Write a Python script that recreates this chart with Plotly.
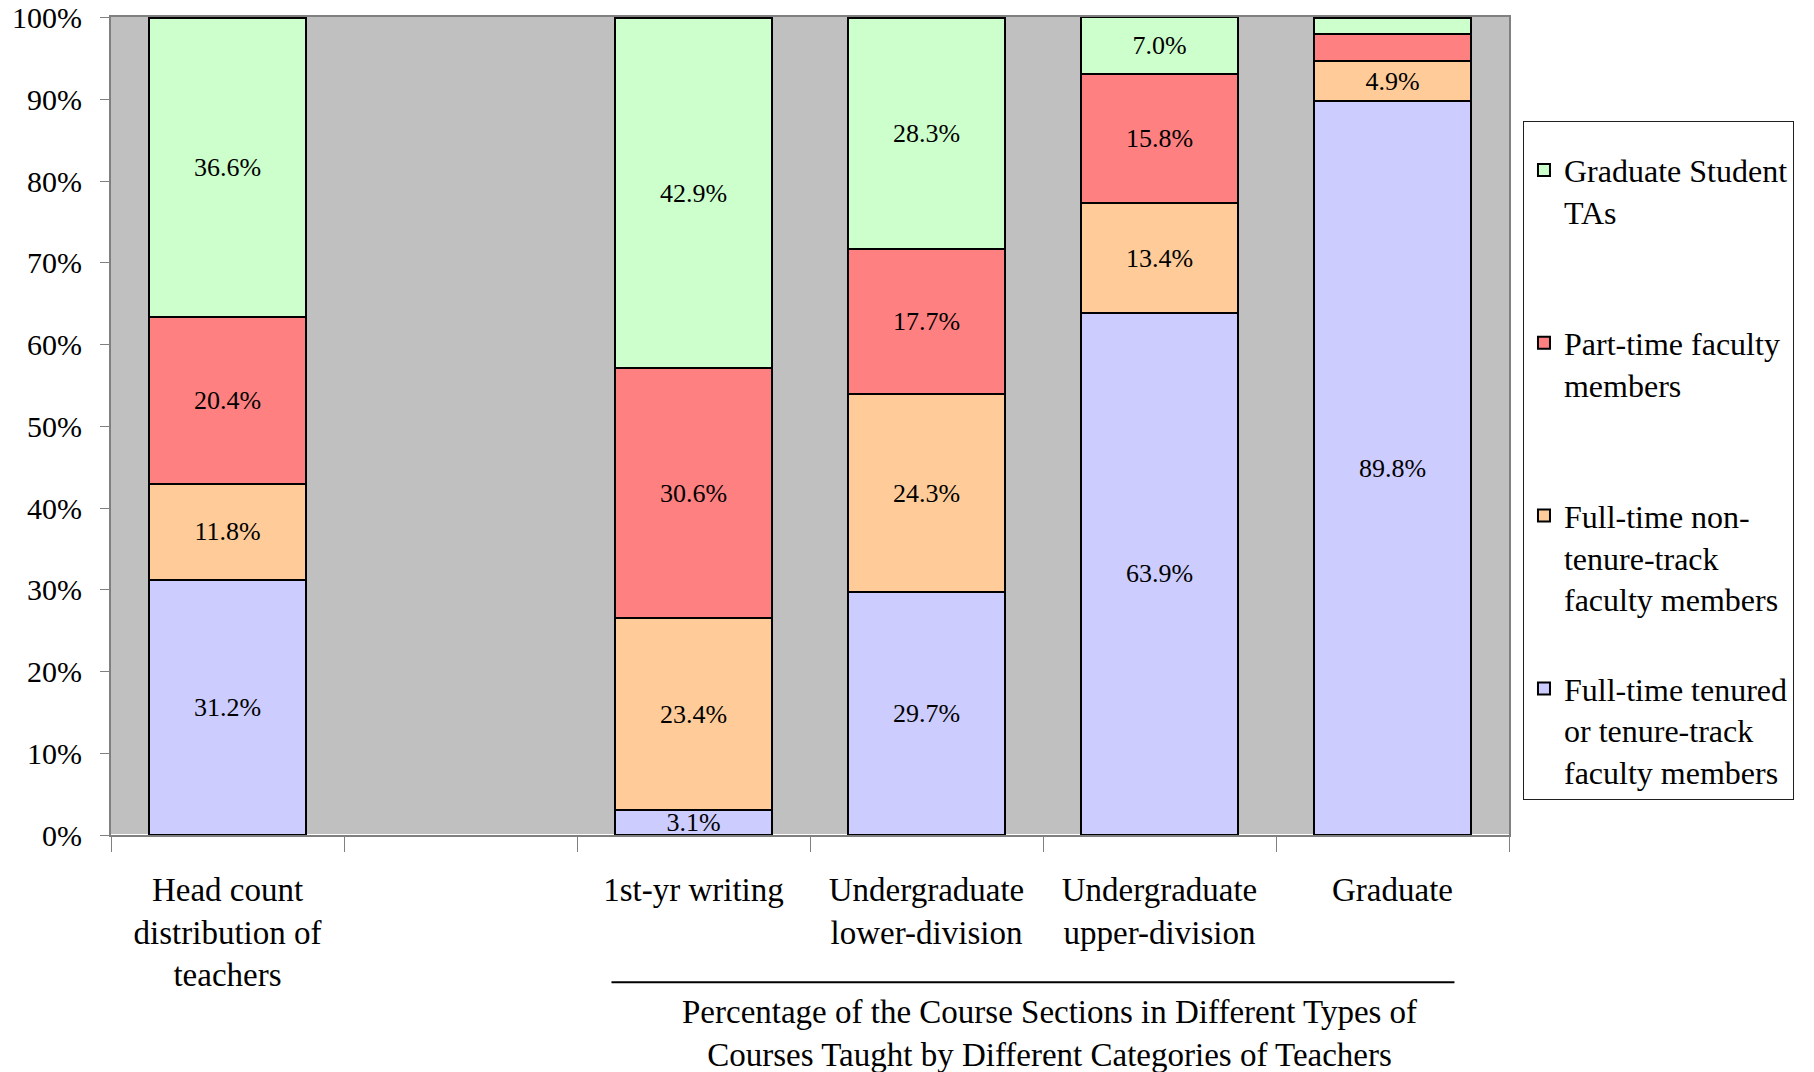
import plotly.graph_objects as go

# categories (second slot is an empty gap in the original chart)
categories = ["Head count<br>distribution of<br>teachers", " ", "1st-yr writing",
              "Undergraduate<br>lower-division", "Undergraduate<br>upper-division", "Graduate"]

# percentages per teacher category
tenured = [31.2, None, 3.1, 29.7, 63.9, 89.8]
non_tenure = [11.8, None, 23.4, 24.3, 13.4, 4.9]
part_time = [20.4, None, 30.6, 17.7, 15.8, 3.3]
grad_tas = [36.6, None, 42.9, 28.3, 7.0, 2.0]

# which segments carry a printed label (graduate's two thin top segments do not)
show_label = {
    "tenured": [True, False, True, True, True, True],
    "non_tenure": [True, False, True, True, True, True],
    "part_time": [True, False, True, True, True, False],
    "grad_tas": [True, False, True, True, True, False],
}

y_ticks = [0, 10, 20, 30, 40, 50, 60, 70, 80, 90, 100]

# key, values, legend name, colour, legend rank (top of legend = top of stack)
series = [
    ("tenured", tenured, "Full-time tenured<br>or tenure-track<br>faculty members", "#CCCCFF", 4),
    ("non_tenure", non_tenure, "Full-time non-<br>tenure-track<br>faculty members", "#FFCC99", 3),
    ("part_time", part_time, "Part-time faculty<br>members<br> ", "#FF8080", 2),
    ("grad_tas", grad_tas, "Graduate Student<br>TAs<br> ", "#CCFFCC", 1),
]

FONT = "Liberation Serif, Times New Roman, serif"

fig = go.Figure()
for key, vals, name, color, rank in series:
    labels = [f"{v:.1f}%" if (v is not None and s) else "" for v, s in zip(vals, show_label[key])]
    fig.add_trace(go.Bar(
        x=categories,
        y=vals,
        name=name,
        legendgroup=key,
        legendrank=rank,
        marker=dict(color=color, line=dict(color="black", width=2)),
        text=labels,
        textposition="inside",
        insidetextanchor="middle",
        constraintext="none",
        textangle=0,
        textfont=dict(family=FONT, size=26, color="black"),
        hoverinfo="skip",
        cliponaxis=False,
    ))

fig.update_layout(
    width=1814,
    height=1072,
    barmode="stack",
    bargap=0.33,
    paper_bgcolor="white",
    plot_bgcolor="#C0C0C0",
    margin=dict(l=111, r=305, t=17, b=237),
    font=dict(family=FONT, color="black"),
    legend=dict(
        x=1.01, y=0.873, xanchor="left", yanchor="top",
        traceorder="grouped",
        tracegroupgap=45,
        valign="top",
        bgcolor="white",
        bordercolor="#202020",
        borderwidth=1,
        title=dict(text=" ", font=dict(family=FONT, size=16)),
        font=dict(family=FONT, size=32, color="black"),
    ),
    showlegend=True,
)

fig.update_xaxes(
    type="category",
    tickson="boundaries",
    ticks="outside",
    ticklen=15,
    tickcolor="#808080",
    showline=True,
    linecolor="#808080",
    linewidth=2,
    mirror=True,
    showgrid=False,
    automargin=False,
    ticklabelstandoff=24,
    tickfont=dict(family=FONT, size=33, color="black"),
)

fig.update_yaxes(
    range=[0, 100.1],
    tickvals=y_ticks,
    ticktext=[f"{t}%" for t in y_ticks],
    ticks="outside",
    ticklen=9,
    tickcolor="#808080",
    showline=True,
    linecolor="#808080",
    linewidth=2,
    mirror=True,
    showgrid=False,
    automargin=False,
    ticklabelstandoff=12,
    ticklabeloverflow="allow",
    tickfont=dict(family=FONT, size=30, color="black"),
)

# bracket line and caption under the course-section bars
fig.add_shape(type="line", xref="paper", yref="paper",
              x0=0.358, x1=0.961, y0=-0.18, y1=-0.18,
              line=dict(color="black", width=2))
fig.add_annotation(
    xref="paper", yref="paper", x=0.671, y=-0.243,
    xanchor="center", yanchor="middle", showarrow=False,
    text="Percentage of the Course Sections in Different Types of<br>Courses Taught by Different Categories of Teachers",
    font=dict(family=FONT, size=33, color="black"),
)

# drop the page's default body margin so the figure sits at the window corner
fig.write_html("out.html", config={"displayModeBar": False},
               post_script="document.body.style.margin='0';")
